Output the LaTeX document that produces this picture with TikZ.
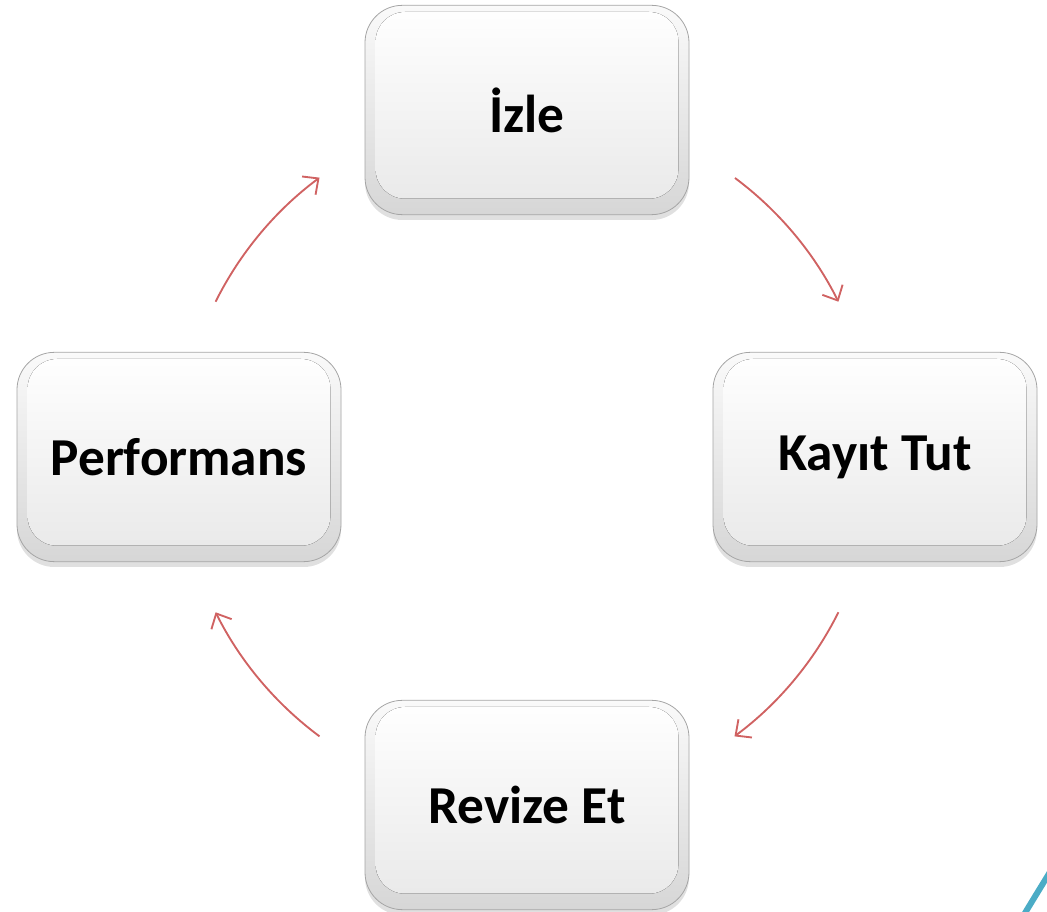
\documentclass[tikz,border=0pt]{standalone}
\usepackage{fontspec}
\setmainfont{Carlito}
\usetikzlibrary{positioning,shadows,arrows.meta}
\definecolor{arrowred}{RGB}{208,98,98}
\definecolor{rimgray}{RGB}{165,165,165}
\definecolor{accentblue}{RGB}{75,172,198}

\begin{document}
\begin{tikzpicture}[x=0.75pt,y=-0.75pt,
  keynode/.style={rectangle, rounded corners=28pt, minimum width=243pt, minimum height=157pt,
    draw=rimgray, line width=0.6pt, top color=gray!4, bottom color=gray!32,
    drop shadow={shadow xshift=0pt, shadow yshift=-4pt, opacity=0.35, fill=gray!70},
    font=\fontsize{40}{44}\selectfont\bfseries,
    path picture={\fill[rounded corners=22pt, top color=white, bottom color=gray!18]
      ([shift={(8pt,-5pt)}]path picture bounding box.north west) rectangle
      ([shift={(-8pt,12pt)}]path picture bounding box.south east);}},
  cyclearrow/.style={draw=arrowred, line width=1.4pt, -{Straight Barb[length=9pt,width=17pt]}}
  ]
  \useasboundingbox (0,0) rectangle (1047,912);

  % Steps of the cycle
  \node[keynode] (izle)   at (527,110) {İzle};
  \node[keynode] (kayit)  at (875,457) {Kayıt Tut};
  \node[keynode] (revize) at (527,805) {Revize Et};
  \node[keynode] (perf)   at (179,457) {Performans};

  % Cycle arrows
  \coordinate (hub) at (527,457);
  \foreach \from/\to in {-53.3/-26.5, 26.5/53.4, 126.6/153.5, 206.5/233.4}
    \draw[cyclearrow] ([shift={(\from:348)}]hub) arc[start angle=\from, end angle=\to, radius=348];

  % Corner accent
  \draw[accentblue, line width=4.5pt] (1022,918) .. controls (1031,903) and (1039,890) .. (1050,872);
\end{tikzpicture}
\end{document}
